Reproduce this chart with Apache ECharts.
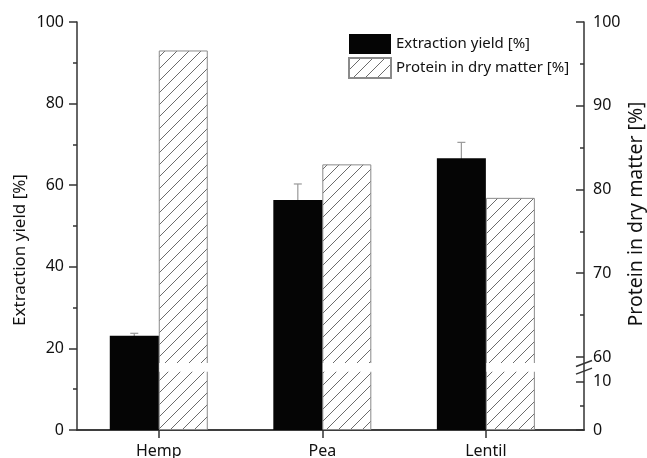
<!DOCTYPE html>
<html><head><meta charset="utf-8">
<script src="https://cdn.jsdelivr.net/npm/echarts@6/dist/echarts.min.js"></script>
<style>html,body{margin:0;padding:0;background:#fff}#c{width:647px;height:458px}</style>
</head><body><div id="c"></div>
<script>
// ---- data ----
const categories = ['Hemp', 'Pea', 'Lentil'];
const categoryPos = [1, 2, 3];
const extractionYield = [23.1, 56.4, 66.6];
const extractionErr = [0.6, 3.9, 3.9];
const proteinDM = [96.6, 83.0, 79.0];
const rightTicks = [0, 10, 60, 70, 80, 90, 100];
const rightMinorTicks = [5, 65, 75, 85, 95];
// broken right axis: protein [0,10] and [60,100] placed on the 0-100 plotting scale
const lowerSeg = { from: [0, 10], to: [0, 11.9] };
const upperSeg = { from: [60, 100], to: [17.9, 100] };
const breakGap = [14.3, 16.4];

function toL(p) {
  const s = p <= lowerSeg.from[1] ? lowerSeg : upperSeg;
  return s.to[0] + (p - s.from[0]) * (s.to[1] - s.to[0]) / (s.from[1] - s.from[0]);
}

const BAR_W = 49;
const FONT = 'Noto Sans';
const AX = { color: '#333', width: 1.5 };

const pc = document.createElement('canvas'); pc.width = 12; pc.height = 12;
const g = pc.getContext('2d');
g.fillStyle = '#fff'; g.fillRect(0, 0, 12, 12);
g.strokeStyle = '#5a5a5a'; g.lineWidth = 0.9;
g.beginPath(); g.moveTo(0, 12); g.lineTo(12, 0); g.moveTo(-1, 1); g.lineTo(1, -1); g.moveTo(11, 13); g.lineTo(13, 11); g.stroke();
const hatch = { image: pc, repeat: 'repeat' };

const chart = echarts.init(document.getElementById('c'), null, { renderer: 'canvas' });
const rightTickL = rightTicks.map(toL);

chart.setOption({
  animation: false,
  textStyle: { fontFamily: FONT },
  grid: { left: 77, right: 63, top: 22, bottom: 28, outerBoundsMode: 'none', containLabel: false },
  legend: {
    left: 348, top: 34, orient: 'vertical', itemWidth: 42, itemHeight: 20, itemGap: 3,
    icon: 'rect', padding: 0,
    data: ['Extraction yield [%]', 'Protein in dry matter [%]'],
    textStyle: { fontFamily: FONT, fontSize: 15, color: '#111' }
  },
  xAxis: [{
    type: 'value', min: 0.5, max: 3.6, position: 'bottom',
    axisLine: { show: true, lineStyle: AX },
    axisTick: { show: true, customValues: categoryPos, length: 8, lineStyle: AX },
    axisLabel: { customValues: categoryPos, formatter: v => categories[categoryPos.indexOf(v)], fontSize: 16, color: '#111', margin: 13, fontFamily: FONT },
    splitLine: { show: false }
  }, {
    type: 'value', min: 0.5, max: 3.6, position: 'top',
    axisLine: { show: true, lineStyle: AX }, axisTick: { show: false }, axisLabel: { show: false }, splitLine: { show: false }
  }],
  yAxis: [{
    type: 'value', min: 0, max: 100, interval: 20, position: 'left',
    axisLine: { show: true, lineStyle: AX },
    axisTick: { show: true, length: 8, lineStyle: AX },
    minorTick: { show: true, splitNumber: 2, length: 4, lineStyle: AX },
    axisLabel: { fontSize: 16, color: '#111', margin: 13, fontFamily: FONT },
    splitLine: { show: false }
  }, {
    type: 'value', min: 0, max: 100, position: 'right',
    axisLine: { show: true, lineStyle: AX },
    axisTick: { show: true, inside: true, length: 8, customValues: rightTickL, lineStyle: AX },
    axisLabel: {
      customValues: rightTickL, fontSize: 16, color: '#111', margin: 9, fontFamily: FONT,
      formatter: v => { let bi = 0; rightTickL.forEach((l, i) => { if (Math.abs(l - v) < Math.abs(rightTickL[bi] - v)) bi = i; }); return String(rightTicks[bi]); }
    },
    splitLine: { show: false }
  }, {
    type: 'value', min: 0, max: 100, position: 'right',
    axisLine: { show: false },
    axisTick: { show: true, inside: true, length: 4, customValues: rightMinorTicks.map(toL), lineStyle: AX },
    axisLabel: { show: false }, splitLine: { show: false }
  }],
  series: [{
    name: 'Extraction yield [%]', type: 'bar', xAxisIndex: 0, yAxisIndex: 0,
    barWidth: BAR_W, barGap: '0%', z: 3,
    itemStyle: { color: '#050505' },
    data: categoryPos.map((x, i) => [x, extractionYield[i]])
  }, {
    name: 'Protein in dry matter [%]', type: 'bar', xAxisIndex: 0, yAxisIndex: 1,
    barWidth: BAR_W, barGap: '0%', z: 2,
    itemStyle: { color: hatch, borderColor: '#8a8a8a', borderWidth: 1 },
    data: categoryPos.map((x, i) => [x, toL(proteinDM[i])])
  }, {
    name: 'err', type: 'custom', xAxisIndex: 0, yAxisIndex: 0, z: 1,
    data: categoryPos.map((x, i) => [x, extractionYield[i] - extractionErr[i], extractionYield[i] + extractionErr[i]]),
    renderItem: (params, api) => {
      const lo = api.coord([api.value(0), api.value(1)]);
      const hi = api.coord([api.value(0), api.value(2)]);
      const xc = lo[0] - BAR_W / 2;
      const st = { stroke: '#999', lineWidth: 1.2 };
      return { type: 'group', children: [
        { type: 'line', shape: { x1: xc, y1: lo[1], x2: xc, y2: hi[1] }, style: st },
        { type: 'line', shape: { x1: xc - 4, y1: hi[1], x2: xc + 4, y2: hi[1] }, style: st }
      ] };
    }
  }, {
    name: 'gap', type: 'custom', xAxisIndex: 0, yAxisIndex: 1, z: 5,
    data: categoryPos.map(x => [x, breakGap[0], breakGap[1]]),
    renderItem: (params, api) => {
      const lo = api.coord([api.value(0), api.value(1)]);
      const hi = api.coord([api.value(0), api.value(2)]);
      return { type: 'rect', shape: { x: lo[0] + 0.5, y: hi[1], width: BAR_W + 1.5, height: lo[1] - hi[1] }, style: { fill: '#fff' } };
    }
  }]
});

const ax = chart.convertToPixel({ xAxisIndex: 0 }, 3.6);
const ym = chart.convertToPixel({ yAxisIndex: 1 }, (breakGap[0] + breakGap[1]) / 2);
const gridTop = chart.convertToPixel({ yAxisIndex: 0 }, 100);
const gridBot = chart.convertToPixel({ yAxisIndex: 0 }, 0);
const slash = dy => ({ type: 'line', shape: { x1: ax - 8, y1: ym + dy + 3, x2: ax + 8, y2: ym + dy - 3 }, style: { stroke: '#333', lineWidth: 1.5 }, z: 10 });
chart.setOption({
  graphic: [
    slash(-3.8), slash(3.8),
    { type: 'text', x: 20, y: (gridTop + gridBot) / 2 + 24, rotation: Math.PI / 2,
      style: { text: 'Extraction yield [%]', fontSize: 17, fontFamily: FONT, fill: '#111', align: 'center', verticalAlign: 'middle' } },
    { type: 'text', x: 636, y: 214, rotation: Math.PI / 2,
      style: { text: 'Protein in dry matter [%]', fontSize: 19.5, fontFamily: FONT, fill: '#111', align: 'center', verticalAlign: 'middle' } }
  ]
});
</script></body></html>
